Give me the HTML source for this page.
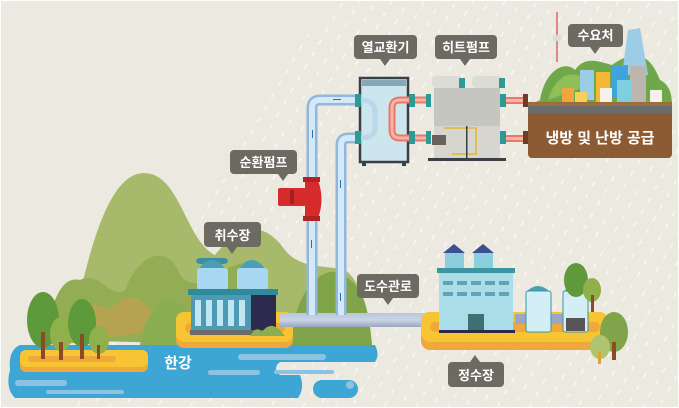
<!DOCTYPE html>
<html><head><meta charset="utf-8"><style>
html,body{margin:0;padding:0;background:#ece9e0}
svg{display:block}
text{font-family:"Liberation Sans","Noto Sans CJK KR",sans-serif;font-weight:bold}
</style></head><body>
<svg width="679" height="408" viewBox="0 0 679 408" xmlns="http://www.w3.org/2000/svg">
<defs>
<pattern id="dash" width="14" height="14" patternUnits="userSpaceOnUse" patternTransform="rotate(30)">
<line x1="4" y1="0" x2="4" y2="5" stroke="#fff" stroke-width="1.2" opacity="0.8"/>
</pattern>
<linearGradient id="pipeV" x1="0" x2="1"><stop offset="0" stop-color="#8fb8dc"/><stop offset="0.35" stop-color="#dceefa"/><stop offset="0.65" stop-color="#cfe4f5"/><stop offset="1" stop-color="#8fb8dc"/></linearGradient>
<linearGradient id="pipeH" x1="0" y1="0" x2="0" y2="1"><stop offset="0" stop-color="#b9c6dc"/><stop offset="0.5" stop-color="#c9d4e6"/><stop offset="1" stop-color="#98a6bf"/></linearGradient>
</defs>
<rect width="679" height="408" fill="#ece9e0"/>
<rect x="0.5" y="0.5" width="678" height="407" fill="none" stroke="#fff"/>
<polygon points="330,0 679,0 679,408 60,408 200,200" fill="url(#dash)"/>

<!-- hills left -->
<path d="M70,340 C90,240 110,175 143,173 C180,172 185,240 215,255 C235,230 260,215 285,250 C300,270 330,265 345,270 C365,285 370,320 372,345 Z" fill="#a7b96a"/>
<path d="M45,340 C55,280 70,278 80,280 C100,270 110,300 125,290 C140,250 170,245 180,275 C200,300 220,260 255,262 L260,345 Z" fill="#93ad55"/>
<path d="M60,345 C70,300 95,300 110,310 C130,285 150,300 160,330 Z" fill="#b5a352"/>
<path d="M140,345 C150,290 180,290 190,320 L200,345 Z" fill="#8cae52"/>
<path d="M290,345 C295,290 320,270 335,272 C360,280 368,300 372,345 Z" fill="#7fa44a"/>

<!-- river -->
<path d="M20,345 L375,345 Q380,355 375,362 L280,362 Q272,368 280,375 L300,375 Q305,388 298,398 L15,398 Q5,388 10,370 Q8,350 20,345 Z" fill="#3da6d5"/>
<rect x="313" y="380" width="45" height="18" rx="9" fill="#3da6d5"/>
<rect x="238" y="354" width="88" height="6" rx="3" fill="#8cc3e3"/>
<rect x="208" y="370" width="52" height="5" rx="2.5" fill="#8cc3e3"/>
<rect x="274" y="370" width="60" height="4" rx="2" fill="#8cc3e3"/>
<rect x="15" y="380" width="52" height="6" rx="3" fill="#8cc3e3"/>
<rect x="46" y="390" width="78" height="4" rx="2" fill="#8cc3e3"/>
<circle cx="350" cy="385" r="4" fill="#8cc3e3"/>

<!-- left island -->
<rect x="20" y="350" width="128" height="22" rx="6" fill="#f0a83a"/>
<rect x="20" y="350" width="128" height="17" rx="6" fill="#f7c433"/>
<rect x="28" y="356" width="88" height="6" rx="3" fill="#f0a83a"/>
<ellipse cx="43" cy="180" rx="0" ry="0"/>
<ellipse cx="43" cy="320" rx="16" ry="28" fill="#5e9a3c"/>
<rect x="41" y="332" width="4" height="27" fill="#8a4b26"/>
<ellipse cx="61" cy="334" rx="11" ry="17" fill="#8fb04a"/>
<rect x="59" y="342" width="4" height="18" fill="#8a4b26"/>
<ellipse cx="82" cy="323" rx="14" ry="24" fill="#5e9a3c"/>
<rect x="80" y="334" width="4" height="25" fill="#8a4b26"/>
<ellipse cx="99" cy="340" rx="10" ry="14" fill="#8fb04a"/>
<rect x="97" y="345" width="3" height="14" fill="#8a4b26"/>

<!-- intake island -->
<rect x="176" y="312" width="117" height="36" rx="8" fill="#f0a83a"/>
<rect x="176" y="312" width="117" height="30" rx="8" fill="#f7c433"/>
<rect x="185" y="323" width="100" height="10" rx="5" fill="#f0a83a"/>

<!-- pipes -->
<rect x="280" y="313" width="162" height="14" fill="url(#pipeH)"/>
<path d="M312,315 L312,108 Q312,100 320,100 L360,100" fill="none" stroke="#8fb8dc" stroke-width="11"/>
<path d="M312,315 L312,108 Q312,100 320,100 L360,100" fill="none" stroke="#d4e8f7" stroke-width="6"/>
<path d="M341,315 L341,145 Q341,138 348,138 L360,138" fill="none" stroke="#8fb8dc" stroke-width="11"/>
<path d="M341,315 L341,145 Q341,138 348,138 L360,138" fill="none" stroke="#d4e8f7" stroke-width="6"/>
<g fill="#2a6fb0"><rect x="311" y="240" width="1" height="8"/><rect x="340" y="180" width="1" height="8"/><rect x="340" y="293" width="1" height="8"/><rect x="333" y="99" width="8" height="1"/><rect x="312" y="130" width="1" height="8"/></g>

<!-- intake building -->
<rect x="196" y="258" width="32" height="6" rx="4" fill="#3b8fa5"/>
<path d="M198,270 Q212,250 226,270 Z" fill="#4a9fb6"/>
<rect x="197" y="268" width="31" height="22" rx="3" fill="#a8d7f2"/>
<path d="M238,270 Q252,250 266,270 Z" fill="#4a9fb6"/>
<rect x="237" y="268" width="31" height="22" rx="3" fill="#a8d7f2"/>
<rect x="188" y="289" width="90" height="6" fill="#2f8a9c"/>
<rect x="191" y="295" width="60" height="35" fill="#4e99b4"/>
<rect x="251" y="295" width="25" height="35" fill="#2d2b4d"/>
<g fill="#bfe6f2"><rect x="195" y="300" width="6" height="26"/><rect x="206" y="300" width="6" height="26"/><rect x="217" y="300" width="6" height="26"/><rect x="228" y="300" width="6" height="26"/><rect x="239" y="300" width="6" height="26"/></g>
<rect x="190" y="330" width="88" height="5" fill="#6c6a66"/>
<path d="M250,336 Q256,325 262,332 Q272,318 285,336 Z" fill="#8cae52"/>

<!-- pump -->
<rect x="278" y="188" width="28" height="18" rx="2" fill="#d62b2b"/>
<rect x="290" y="190" width="4" height="14" fill="#a51f1f"/>
<path d="M305,180 L318,180 Q325,200 318,218 L305,218 Z" fill="#d62b2b"/>
<rect x="303" y="177" width="17" height="5" fill="#b32222"/>
<rect x="303" y="216" width="17" height="5" fill="#b32222"/>

<!-- heat exchanger -->
<rect x="360" y="78" width="48" height="84" fill="#cde6ee" stroke="#3a3f46" stroke-width="2.5"/>
<rect x="362" y="80" width="44" height="6" fill="#86a8b6"/>
<path d="M428,100 L400,100 Q392,100 392,108 L392,130 Q392,138 400,138 L428,138" fill="none" stroke="#e7786a" stroke-width="7"/>
<path d="M428,100 L400,100 Q392,100 392,108 L392,130 Q392,138 400,138 L428,138" fill="none" stroke="#f6b3a7" stroke-width="3"/>
<path d="M360,100 Q375,100 375,112 L375,128 Q375,138 360,138" fill="none" stroke="#b9d8ea" stroke-width="5"/>
<g fill="#2d9a96"><rect x="355" y="94" width="6" height="13"/><rect x="355" y="131" width="6" height="13"/><rect x="409" y="94" width="6" height="13"/><rect x="409" y="131" width="6" height="13"/><rect x="426" y="94" width="5" height="13"/><rect x="426" y="131" width="5" height="13"/></g>
<rect x="362" y="162" width="4" height="4" fill="#3a3f46"/><rect x="402" y="162" width="4" height="4" fill="#3a3f46"/>

<!-- heat pump -->
<rect x="432" y="76" width="30" height="12" rx="4" fill="#dcdcd6"/>
<rect x="472" y="76" width="30" height="12" rx="4" fill="#dcdcd6"/>
<rect x="459" y="78" width="6" height="10" fill="#2d9a96"/><rect x="499" y="78" width="6" height="10" fill="#2d9a96"/>
<rect x="434" y="88" width="66" height="38" fill="#c6c6c1"/>
<rect x="434" y="126" width="66" height="32" fill="#d6d5cf"/>
<path d="M444,128 L476,128 L476,154 L452,154" fill="none" stroke="#e3b52f" stroke-width="1.5"/>
<rect x="432" y="135" width="14" height="10" fill="#6a6258"/>
<rect x="428" y="158" width="78" height="3" fill="#3a3f46"/>
<rect x="466" y="126" width="1.5" height="32" fill="#3a3f46"/>
<g fill="#2d9a96"><rect x="500" y="94" width="6" height="13"/><rect x="500" y="131" width="6" height="13"/></g>
<rect x="506" y="97" width="22" height="7" fill="#e7786a"/><rect x="506" y="135" width="22" height="7" fill="#e7786a"/>
<rect x="506" y="99" width="22" height="3" fill="#f6b3a7"/><rect x="506" y="137" width="22" height="3" fill="#f6b3a7"/>
<rect x="523" y="94" width="5" height="13" fill="#6e3e24"/><rect x="523" y="131" width="5" height="13" fill="#6e3e24"/>

<!-- demand area -->
<path d="M540,100 C545,70 565,60 575,70 C585,55 600,62 612,65 C640,45 652,60 660,80 C670,85 672,95 672,105 L530,105 Z" fill="#6ea84a"/>
<path d="M548,100 C555,75 575,65 590,85 Z" fill="#8fc057"/>
<rect x="556" y="12" width="2" height="50" fill="#d88"/>
<rect x="553" y="35" width="8" height="6" fill="#dcdcd6"/>
<path d="M628,30 L640,28 L648,75 L622,75 Z" fill="#9ccde6"/>
<rect x="580" y="70" width="14" height="30" fill="#9ccde6"/>
<rect x="596" y="72" width="14" height="32" fill="#f6b533"/>
<rect x="612" y="65" width="16" height="32" fill="#3fa4dc"/>
<rect x="630" y="66" width="16" height="36" fill="#bdb6ae"/>
<rect x="562" y="88" width="12" height="16" fill="#f0a640"/>
<rect x="575" y="92" width="12" height="12" fill="#f7cf5a"/>
<rect x="600" y="88" width="12" height="16" fill="#f4f1ea"/>
<rect x="617" y="80" width="14" height="24" fill="#7fcfe3"/>
<rect x="650" y="90" width="12" height="14" fill="#f4f1ea"/>
<rect x="528" y="102" width="144" height="56" rx="4" fill="#8c5a33"/>
<rect x="528" y="106" width="144" height="8" fill="#6a6b6c"/>
<rect x="528" y="102" width="144" height="4" fill="#9a6d3c"/>
<text x="600" y="143" text-anchor="middle" font-size="15" fill="#fff">냉방 및 난방 공급</text>

<!-- purification plant -->
<rect x="421" y="312" width="187" height="38" rx="9" fill="#f0a83a"/>
<rect x="421" y="312" width="187" height="30" rx="9" fill="#f7c433"/>
<rect x="430" y="322" width="170" height="10" rx="5" fill="#f0a83a"/>
<path d="M443,253 L454,244 L465,253 Z M472,253 L483,244 L494,253 Z" fill="#3e4f8e"/>
<rect x="445" y="253" width="19" height="15" fill="#8ccfdc"/>
<rect x="474" y="253" width="19" height="15" fill="#8ccfdc"/>
<rect x="437" y="268" width="78" height="5" fill="#3b95a3"/>
<rect x="439" y="273" width="74" height="59" fill="#a9dde7"/>
<g fill="#5fa3b8"><rect x="443" y="281" width="10" height="4"/><rect x="457" y="281" width="10" height="4"/><rect x="471" y="281" width="10" height="4"/><rect x="485" y="281" width="10" height="4"/><rect x="499" y="281" width="10" height="4"/><rect x="443" y="292" width="10" height="4"/><rect x="457" y="292" width="10" height="4"/><rect x="471" y="292" width="10" height="4"/><rect x="485" y="292" width="10" height="4"/><rect x="499" y="292" width="10" height="4"/></g>
<rect x="468" y="314" width="16" height="18" fill="#3f6f73"/>
<rect x="439" y="330" width="76" height="3" fill="#2d2b4d"/>
<rect x="515" y="314" width="52" height="10" fill="#9aa7c3"/>
<path d="M526,292 Q538,280 550,292 Z M563,292 Q575,280 587,292 Z" fill="#4a9fb6"/>
<rect x="526" y="291" width="25" height="41" rx="2" fill="#d4eef5" stroke="#3b95a3"/>
<rect x="563" y="291" width="25" height="41" rx="2" fill="#d4eef5" stroke="#3b95a3"/>
<rect x="566" y="318" width="19" height="13" fill="#555"/>
<ellipse cx="576" cy="280" rx="12" ry="17" fill="#5e9a3c"/>
<ellipse cx="592" cy="290" rx="9" ry="12" fill="#8fb04a"/>
<rect x="591" y="295" width="3" height="17" fill="#8a4b26"/>
<ellipse cx="614" cy="332" rx="14" ry="20" fill="#7fa44a"/>
<rect x="612" y="342" width="4" height="18" fill="#8a4b26"/>
<ellipse cx="600" cy="347" rx="10" ry="12" fill="#b0c470"/>
<rect x="598" y="352" width="3" height="12" fill="#d8a43a"/>

<!-- labels -->
<g fill="#6d6a62">
<rect x="354" y="35" width="63" height="24" rx="4"/><path d="M380,59 L385,66 L390,59Z"/>
<rect x="435" y="35" width="62" height="24" rx="4"/><path d="M460,59 L465,66 L470,59Z"/>
<rect x="568" y="24" width="55" height="23" rx="4"/><path d="M590,47 L595,54 L600,47Z"/>
<rect x="230" y="150" width="67" height="24" rx="4"/><path d="M278,174 L283,181 L288,174Z"/>
<rect x="204" y="222" width="57" height="25" rx="4"/><path d="M227,247 L232,254 L237,247Z"/>
<rect x="357" y="274" width="62" height="24" rx="4"/><path d="M383,298 L388,305 L393,298Z"/>
<rect x="448" y="362" width="56" height="25" rx="4"/><path d="M470,362 L475,355 L480,362Z"/>
</g>
<g fill="#fff" font-size="13" text-anchor="middle">
<text x="385.5" y="52">열교환기</text>
<text x="466" y="52">히트펌프</text>
<text x="595.5" y="40">수요처</text>
<text x="263.5" y="167">순환펌프</text>
<text x="232.5" y="240">취수장</text>
<text x="388" y="291">도수관로</text>
<text x="476" y="380">정수장</text>
<text x="178" y="368" font-size="15">한강</text>
</g>
</svg>
</body></html>
